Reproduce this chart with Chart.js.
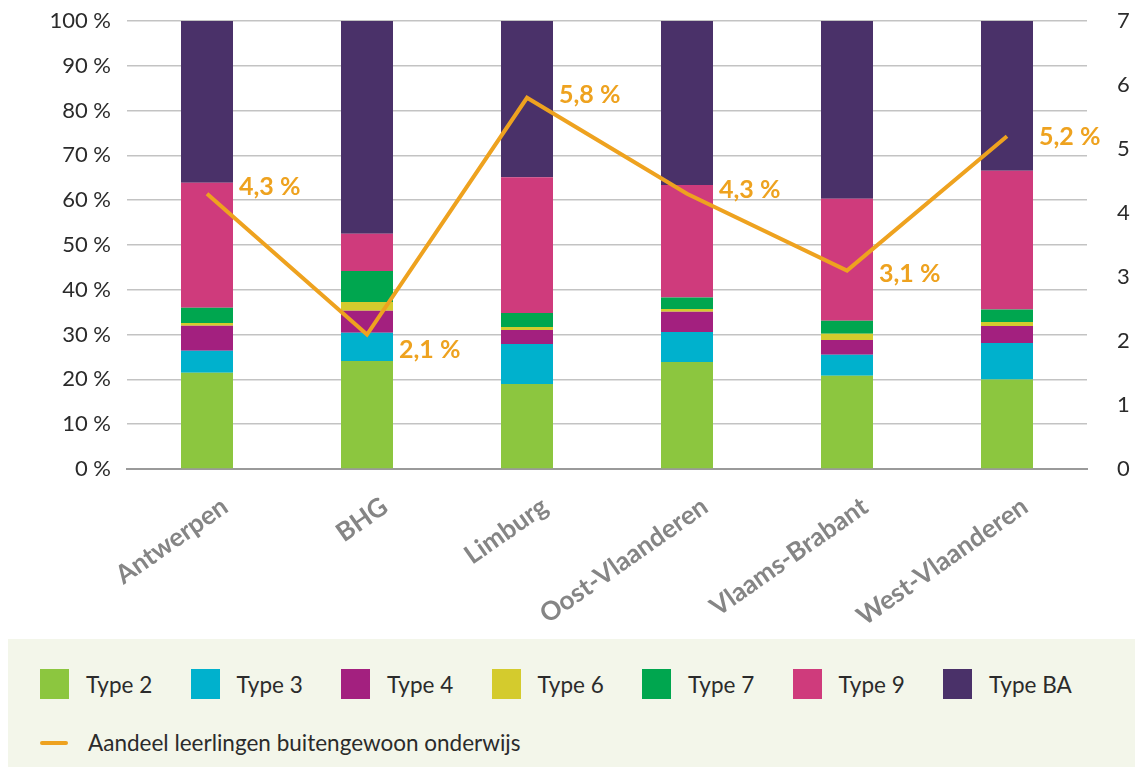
<!DOCTYPE html>
<html>
<head>
<meta charset="utf-8">
<script src="https://cdn.jsdelivr.net/npm/chart.js@4.4.0/dist/chart.umd.min.js"></script>
<style>
  body { margin: 0; background: #fff; font-family: Lato, "Open Sans", sans-serif; }
  #wrap { position: relative; width: 1135px; height: 638px; }
  #legend {
    position: absolute; left: 8px; top: 639px; width: 1127px; height: 128px;
    background: #f3f6ea; color: #2b2b2b; font-size: 22.5px;
  }
  .item { position: absolute; top: 30px; display: flex; align-items: center; }
  .sw { width: 29px; height: 30px; margin-right: 17px; }
  .ln { width: 28px; height: 4px; border-radius: 2px; margin-right: 20px; }
</style>
</head>
<body>
<div id="wrap"><canvas id="chart" width="1135" height="638"></canvas></div>
<div id="legend"></div>
<script>
// categories and series (percent of pupils per type, share of special education)
const regions = ['Antwerpen', 'BHG', 'Limburg', 'Oost-Vlaanderen', 'Vlaams-Brabant', 'West-Vlaanderen'];
const type2  = [21.5, 24.1, 19.0, 23.9, 20.8, 20.0];
const type3  = [4.9, 6.3, 8.9, 6.7, 4.7, 8.1];
const type4  = [5.6, 4.9, 3.1, 4.5, 3.3, 3.8];
const type6  = [0.6, 2.0, 0.7, 0.6, 1.4, 0.9];
const type7  = [3.4, 6.9, 3.1, 2.6, 2.9, 2.8];
const type9  = [27.9, 8.3, 30.3, 25.1, 27.2, 31.0];
const typeBA = [36.1, 47.5, 34.9, 36.6, 39.7, 33.4];
const aandeel = [4.3, 2.1, 5.8, 4.3, 3.1, 5.2];
const leftTicks = [0, 10, 20, 30, 40, 50, 60, 70, 80, 90, 100];
const rightTicks = [0, 1, 2, 3, 4, 5, 6, 7];

// label nudges for the line values (layout only)
const labelNudgeY = [-7, 15, -3, -4, 3, 1];

const orange = '#eea21f';
const barSets = [
  ['Type 2', type2, '#8cc63f'],
  ['Type 3', type3, '#00b1cd'],
  ['Type 4', type4, '#a3207f'],
  ['Type 6', type6, '#d4cb2d'],
  ['Type 7', type7, '#00a64f'],
  ['Type 9', type9, '#cf3b7c'],
  ['Type BA', typeBA, '#4a3169']
];

const datasets = [{
  type: 'line',
  label: 'Aandeel leerlingen buitengewoon onderwijs',
  data: aandeel,
  yAxisID: 'y1',
  borderColor: orange,
  backgroundColor: orange,
  borderWidth: 4,
  pointRadius: 0,
  tension: 0,
  order: 0
}];
barSets.forEach(([label, data, color]) => {
  datasets.push({
    type: 'bar', label, data, backgroundColor: color, yAxisID: 'y',
    stack: 's', barPercentage: 0.325, categoryPercentage: 1, order: 1
  });
});

const valueLabels = {
  id: 'valueLabels',
  afterDatasetsDraw(chart) {
    const meta = chart.getDatasetMeta(0);
    const ctx = chart.ctx;
    ctx.save();
    ctx.fillStyle = orange;
    ctx.font = 'bold 25px Lato';
    ctx.textBaseline = 'middle';
    meta.data.forEach((pt, i) => {
      const txt = aandeel[i].toFixed(1).replace('.', ',') + ' %';
      ctx.fillText(txt, pt.x + 32, pt.y + labelNudgeY[i]);
    });
    ctx.restore();
  }
};

function noPad(s) { s.paddingTop = 0; s.paddingBottom = 0; s.paddingLeft = 0; s.paddingRight = 0; }

new Chart(document.getElementById('chart'), {
  data: { labels: regions, datasets },
  plugins: [valueLabels],
  options: {
    responsive: false,
    animation: false,
    layout: { padding: { top: 21, left: 0, right: 0, bottom: 0 } },
    plugins: { legend: { display: false }, tooltip: { enabled: false } },
    scales: {
      x: {
        stacked: true,
        grid: { display: false, drawTicks: false },
        border: { color: '#9a9a9a', width: 2 },
        ticks: {
          color: '#858585', font: { family: 'Lato', size: 26, weight: 'bold' },
          maxRotation: 35, minRotation: 35, padding: 22, labelOffset: 18
        },
        afterFit(s) { s.height = 169; noPad(s); }
      },
      y: {
        stacked: true, min: 0, max: 100,
        afterBuildTicks(s) { s.ticks = leftTicks.map(v => ({ value: v })); },
        grid: { color: '#c3c3c3', lineWidth: 1.5, drawTicks: false },
        border: { display: false },
        ticks: {
          color: '#2b2b2b', font: { family: 'Lato', size: 22 }, padding: 16,
          callback: v => v + ' %'
        },
        afterFit(s) { s.width = 127; noPad(s); }
      },
      y1: {
        position: 'right', min: 0, max: 7,
        afterBuildTicks(s) { s.ticks = rightTicks.map(v => ({ value: v })); },
        grid: { display: false, drawTicks: false },
        border: { display: false },
        ticks: { color: '#2b2b2b', font: { family: 'Lato', size: 22 }, padding: 30 },
        afterFit(s) { s.width = 48; noPad(s); }
      }
    }
  }
});

// HTML legend built from the datasets
const legend = document.getElementById('legend');
barSets.forEach(([label, , color], i) => {
  const d = document.createElement('div');
  d.className = 'item';
  d.style.left = (32 + i * 150.5) + 'px';
  d.innerHTML = '<span class="sw" style="background:' + color + '"></span><span>' + label + '</span>';
  legend.appendChild(d);
});
const li = document.createElement('div');
li.className = 'item';
li.style.left = '32px';
li.style.top = '90px';
li.innerHTML = '<span class="ln" style="background:' + orange + '"></span><span>' + datasets[0].label + '</span>';
legend.appendChild(li);
</script>
</body>
</html>
